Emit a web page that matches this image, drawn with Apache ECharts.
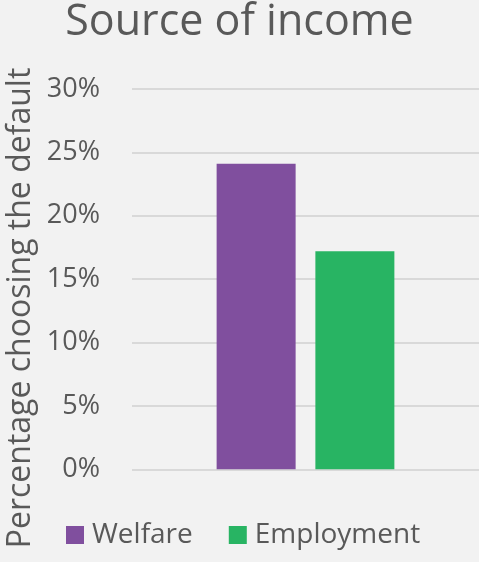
<!DOCTYPE html>
<html>
<head>
<meta charset="utf-8">
<script src="https://cdn.jsdelivr.net/npm/echarts@6/dist/echarts.min.js"></script>
<style>
html,body{margin:0;padding:0;background:#f2f2f2;}
#c{width:479px;height:562px;}
</style>
</head>
<body>
<div id="c"></div>
<script>
const titleText = "Source of income";
const yAxisTitle = "Percentage choosing the default";
const categories = ["Source of income"];
const seriesNames = ["Welfare", "Employment"];
const welfareValues = [24.1];
const employmentValues = [17.2];
const yTicks = [0, 5, 10, 15, 20, 25, 30];

const FONT = "Open Sans";
const TXT = "#595959";
const chart = echarts.init(document.getElementById('c'), null, {renderer: 'canvas'});
chart.setOption({
  backgroundColor: '#f2f2f2',
  animation: false,
  title: {
    text: titleText, left: 'center', top: -4,
    textStyle: {fontFamily: FONT, fontSize: 43, fontWeight: 'normal', color: TXT}
  },
  graphic: [{
    type: 'text', x: 21, y: 308, rotation: Math.PI / 2,
    style: {text: yAxisTitle, fontFamily: FONT, fontSize: 32, fill: TXT,
      align: 'center', verticalAlign: 'middle'}
  }],
  legend: {
    data: seriesNames, left: 66, top: 520, padding: 0,
    icon: 'rect', itemWidth: 18, itemHeight: 18, itemGap: 36,
    textStyle: {fontFamily: FONT, fontSize: 28, color: TXT, lineHeight: 30, padding: [0, 0, 0, 3]}
  },
  grid: {left: 132, right: 0, top: 89, bottom: 92.7, containLabel: false},
  xAxis: {
    type: 'category', data: categories,
    axisLine: {show: false}, axisTick: {show: false}, axisLabel: {show: false}
  },
  yAxis: {
    type: 'value', min: yTicks[0], max: yTicks[yTicks.length - 1], interval: 5,
    axisLine: {show: false}, axisTick: {show: false},
    axisLabel: {formatter: '{value}%', margin: 32, fontFamily: FONT, fontSize: 27, color: TXT},
    splitLine: {lineStyle: {color: '#d9d9d9', width: 2}}
  },
  series: [
    {name: seriesNames[0], type: 'bar', data: welfareValues, barWidth: 79, barGap: '25%',
     itemStyle: {color: '#804f9e'}},
    {name: seriesNames[1], type: 'bar', data: employmentValues, barWidth: 79, barGap: '25%',
     itemStyle: {color: '#28b463'}}
  ]
});
</script>
</body>
</html>
